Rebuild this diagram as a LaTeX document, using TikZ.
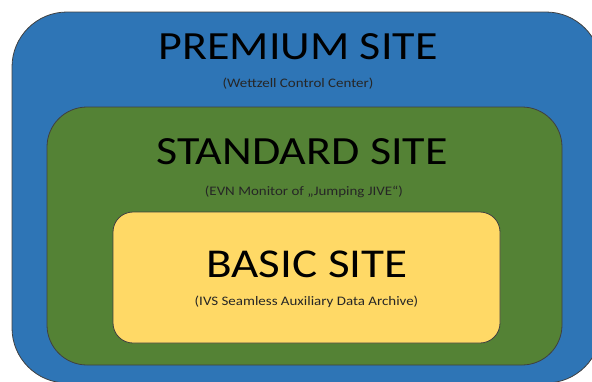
\documentclass[tikz,border=0pt]{standalone}
\usepackage{fontspec}
\setmainfont{Carlito}[FakeStretch=1.15]
\usepackage{tikz}

\definecolor{premiumblue}{HTML}{2E75B6}
\definecolor{standardgreen}{HTML}{548235}
\definecolor{basicyellow}{HTML}{FFD966}

\tikzset{
  sitebox/.style={draw=black!75, line width=0.8pt, rectangle, inner sep=0pt},
  sitetitle/.style={anchor=base, inner sep=0pt, font=\fontsize{40}{48}\selectfont},
  sitenote/.style={anchor=base, inner sep=0pt, font=\fontsize{13}{15}\selectfont, text=black!85}
}

\begin{document}
\begin{tikzpicture}[x=1pt,y=-1pt]
        \clip (0,0) rectangle (592,381);

        % Boxes
        \node (premium) [sitebox, fill=premiumblue, minimum width=589pt, minimum height=371pt, rounded corners=55pt] at (306.5,197.5) {};
        \node (standard) [sitebox, fill=standardgreen, minimum width=515pt, minimum height=258pt, rounded corners=40pt] at (304.5,236) {};
        \node (basic) [sitebox, fill=basicyellow, minimum width=387pt, minimum height=131pt, rounded corners=20pt] at (306.5,277.5) {};

        % Labels
        \node (premium_title) [sitetitle] at (298,59) {PREMIUM SITE};
        \node (premium_note) [sitenote] at (298,87) {(Wettzell Control Center)};
        \node (standard_title) [sitetitle] at (302,164) {STANDARD SITE};
        \node (standard_note) [sitenote] at (304,195) {(EVN Monitor of „Jumping JIVE“)};
        \node (basic_title) [sitetitle, font=\fontsize{41}{50}\selectfont] at (307,277) {BASIC SITE};
        \node (basic_note) [sitenote] at (306.5,305) {(IVS Seamless Auxiliary Data Archive)};
    \end{tikzpicture}
\end{document}
